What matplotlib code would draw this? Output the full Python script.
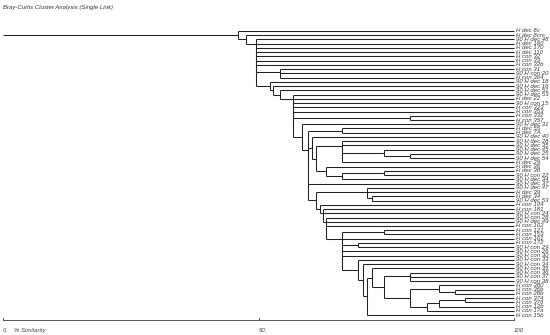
"""Bray-Curtis single link dendrogram, redrawn from a reference picture."""

import matplotlib
matplotlib.use("Agg")
import matplotlib.pyplot as plt

# leaf labels, top to bottom
labels = [
    "H dec 8c", "H dec 8cm", "90 H dec 48", "H dec 160", "H dec 170",
    "H dec 110", "H con 32", "H con 33", "H con 32b", "H con 31",
    "90 H con 20", "H con 364", "90 H dec 18", "90 H dec 16", "90 H dec 51",
    "90 H dec 53", "H dec 22", "90 H con 15", "H con 323", "H con 353",
    "H con 332", "H con 357", "90 H dec 31", "H dec 55", "H dec 7A",
    "90 H dec 40", "90 H dec 28", "90 H dec 35", "90 H dec 45", "90 H dec 25",
    "90 H dec 54", "H dec 29", "H dec 36", "H dec 38", "90 H con 22",
    "90 H dec 34", "90 H dec 37", "90 H dec 47", "H dec 39", "H dec 34",
    "90 H dec 53", "H con 104", "H con 181", "90 H con 24", "90 H con 28",
    "90 H dec 49", "H con 102", "H con 121", "H con 153", "H con 161",
    "H con 172", "90 H con 29", "90 H con 26", "90 H con 30", "90 H con 33",
    "90 H con 34", "90 H con 35", "90 H con 36", "90 H con 37", "90 H con 38",
    "H con 380", "H con 36b", "H con 28b", "H con 374", "H con 376",
    "H con 12b", "H con 17a", "H con 15b",
]

# merge tree: (similarity %, child, child, ...); ints are leaf rows
bottom = (71.2, (72.3, 56,
                 (74.6, (79.6, 57, 58, 59),
                  (79.6, (85.4, 60, (88.5, 61, 62)),
                   (82.9, (85.4, (90.4, 63, 64), 65), 66)))), 67)
lower = (66.3, (74.6, 47, 48), 49, (69.5, 50, 51), 52, 53,
         (69.5, 54, (70.5, 55, bottom)))
mid = (59.6, (66.3, 23, 24),
       (60.4, 25,
        (61.3, (66.3, 26, 27, (74.6, 28, (79.6, 29, 30)), 31),
         (63.3, 32, (66.3, (74.6, 33, 34), 35)))),
       36,
       (61.3, (71.2, 37, 38, (72.3, 39, 40)),
        (62.0, 41, (62.7, 42, 43, (63.3, 44, 45, 46, lower)))))
tree = (45.9, 0,
        (47.5, 1,
         (49.6, 2, 3, 4, 5, 6, 7, 8, (54.2, 9, 10, 11),
          (52.3, 12,
           (52.9, 13,
            (54.2, 14,
             (56.8, 15, 16, 17, 18, 19, (79.6, 20, 21),
              (58.5, 22, mid))))))))

LINE = dict(color="#222222", lw=0.75, solid_capstyle="butt")


def draw(ax, node):
    """Draw a node, return (x, y) of the point its parent links to."""
    if isinstance(node, int):
        return 100.0, float(node)
    sim, *children = node
    pts = [draw(ax, c) for c in children]
    # ties are chained from the right, each link at the midpoint
    xr, yr = pts[-1]
    for xl, yl in reversed(pts[:-1]):
        ax.plot([xl, sim], [yl, yl], **LINE)
        ax.plot([xr, sim], [yr, yr], **LINE)
        ax.plot([sim, sim], [yl, yr], **LINE)
        xr, yr = sim, (yl + yr) / 2
    return xr, yr


def main():
    plt.rcParams["font.family"] = ["Liberation Sans", "DejaVu Sans"]
    fig = plt.figure(figsize=(5.5, 3.35), dpi=100)
    ax = fig.add_axes([0, 0, 1, 1])
    ax.set_axis_off()

    n = len(labels)
    px = 5.11  # pixels per % similarity
    row = 4.24  # pixels per leaf row
    ax.set_xlim(-3 / px, (550 - 3) / px)
    ax.set_ylim(n - 1 + 20 / row, -31 / row)

    x_root, y_root = draw(ax, tree)
    ax.plot([0, x_root], [y_root, y_root], **LINE)

    for i, lab in enumerate(labels):
        ax.text(100.3, i, lab, fontsize=4.3, style="italic",
                va="center", ha="left", color="#3a3a3a")

    # similarity scale
    y_axis = n - 1 + 5 / row
    ax.plot([0, 100], [y_axis, y_axis], color="#555555", lw=0.7)
    for t in (0, 50, 100):
        ax.plot([t, t], [y_axis, y_axis - 0.4], color="#555555", lw=0.7)
    y_lab = n - 1 + 15 / row
    ax.text(0, y_lab, "0,", fontsize=4.3, style="italic", va="center", color="#444444")
    ax.text(2.2, y_lab, "% Similarity", fontsize=4.3, style="italic",
            va="center", color="#444444")
    ax.text(50, y_lab, "50,", fontsize=4.3, style="italic", va="center", color="#444444")
    ax.text(100, y_lab, "100", fontsize=4.3, style="italic", va="center", color="#444444")

    fig.text(3 / 550, 1 - 8 / 335, "Bray-Curtis Cluster Analysis (Single Link)",
             fontsize=4.3, style="italic", va="center", ha="left", color="#333333")

    fig.savefig("out.png", dpi=100)


if __name__ == "__main__":
    main()
